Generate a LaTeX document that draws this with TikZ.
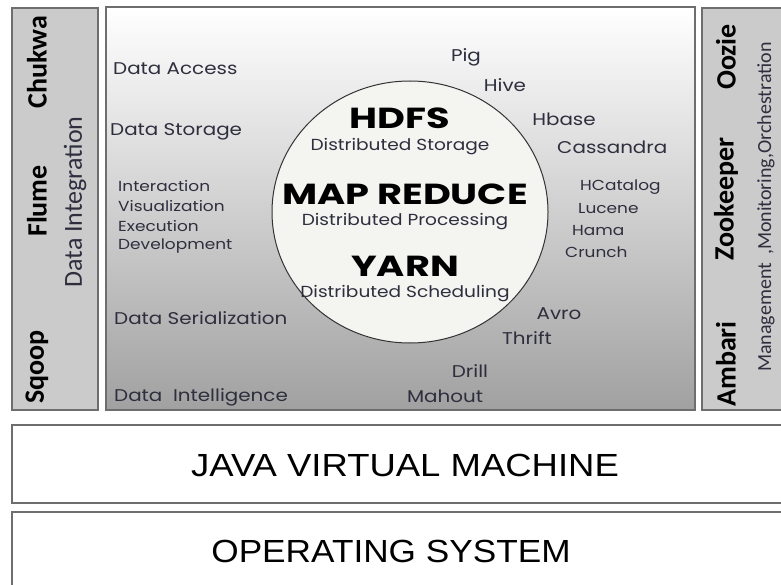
\documentclass[tikz,border=0pt]{standalone}
\usepackage{fontspec}
\setmainfont{Poppins}
\newfontfamily\calib{Carlito}
\newfontfamily\layerfont{Liberation Sans}
\usetikzlibrary{shapes.geometric}
\definecolor{boxgray}{HTML}{CBCBCB}
\definecolor{edgegray}{HTML}{6E6E6E}
\definecolor{txt}{HTML}{2E2E3E}
\definecolor{ellfill}{HTML}{F4F4F1}
\tikzset{
  panel/.style={draw=edgegray, line width=1.5pt},
  lbl/.style={text=txt, inner sep=0pt, xscale=1.17, font=\fontsize{17}{19}\selectfont},
  sml/.style={text=txt, inner sep=0pt, xscale=1.17, font=\fontsize{14.5}{16}\selectfont},
  big/.style={text=black, inner sep=0pt, xscale=1.32, font=\fontsize{29}{31}\selectfont\bfseries},
  sub/.style={text=txt, inner sep=0pt, xscale=1.16, font=\fontsize{16}{18}\selectfont},
  tool/.style={text=black, inner sep=0pt, rotate=90, font=\calib\fontsize{28}{30}\selectfont\bfseries},
  side/.style={text=txt, inner sep=0pt, rotate=90, font=\calib\fontsize{26}{28}\selectfont},
  layer/.style={text=black, inner sep=0pt, xscale=1.14, font=\layerfont\fontsize{32}{34}\selectfont}
}
\begin{document}
\begin{tikzpicture}[x=1pt,y=-1pt]
\useasboundingbox (0,0) rectangle (781,585);
% panels
\draw[panel, fill=boxgray] (12,8) rectangle (98,410);
\shade[top color=white, bottom color=black!37] (106,7) rectangle (695,410);
\draw[panel] (106,7) rectangle (695,410);
\draw[panel, fill=boxgray] (702,8) rectangle (785,410);
\draw[panel, fill=white] (12,425) rectangle (785,503);
\draw[panel, fill=white] (12,512) rectangle (785,592);
% core ellipse
\node[ellipse, draw=black!80, line width=1pt, fill=ellfill, minimum width=276pt, minimum height=262pt] (core) at (410,212) {};
\node[big] (hdfs) at (400,118) {HDFS};
\node[sub] (hdfsd) at (400,147) {Distributed Storage};
\node[big] (mr) at (405,194) {MAP REDUCE};
\node[sub] (mrd) at (405,222) {Distributed Processing};
\node[big] (yarn) at (405,266) {YARN};
\node[sub] (yarnd) at (405,294) {Distributed Scheduling};
% left categories
\node[lbl, anchor=west] (acc) at (113,69) {Data Access};
\node[lbl, anchor=west] (sto) at (110,132) {Data Storage};
\node[sml, anchor=west] (int) at (118,186) {Interaction};
\node[sml, anchor=west] (vis) at (118,206) {Visualization};
\node[sml, anchor=west] (exe) at (118,226) {Execution};
\node[sml, anchor=west] (dev) at (118,246) {Development};
\node[lbl, anchor=west] (ser) at (114,318) {Data Serialization};
\node[lbl, anchor=west] (intel) at (114,397) {Data\ \ Intelligence};
% right tools
\node[lbl] (pig) at (466,57) {Pig};
\node[lbl] (hive) at (505,85) {Hive};
\node[lbl] (hbase) at (564,119) {Hbase};
\node[lbl, anchor=west] (cass) at (557,147) {Cassandra};
\node[sml, anchor=west] (hcat) at (580,187) {HCatalog};
\node[sml, anchor=west] (luc) at (578,209) {Lucene};
\node[sml, anchor=west] (hama) at (572,231) {Hama};
\node[sml, anchor=west] (crunch) at (565,252) {Crunch};
\node[lbl] (avro) at (559,314) {Avro};
\node[lbl] (thrift) at (527,338) {Thrift};
\node[lbl] (drill) at (470,371) {Drill};
\node[lbl] (mahout) at (445,396) {Mahout};
% left panel
\node[tool] (sqoop) at (37,367) {Sqoop};
\node[tool] (flume) at (37,201) {Flume};
\node[tool] (chukwa) at (37,62) {Chukwa};
\node[side] (dint) at (75,202) {Data Integration};
% right panel
\node[tool] (ambari) at (726,364) {Ambari};
\node[tool] (zoo) at (726,199) {Zookeeper};
\node[tool] (oozie) at (726,57) {Oozie};
\node[side, font=\calib\fontsize{20}{22}\selectfont] (mgmt) at (766,207) {Management \,,Monitoring,Orchestration};
% layers
\node[layer] (jvm) at (405,465) {JAVA VIRTUAL MACHINE};
\node[layer, xscale=0.965] (os) at (391,551) {OPERATING SYSTEM};
\end{tikzpicture}
\end{document}
